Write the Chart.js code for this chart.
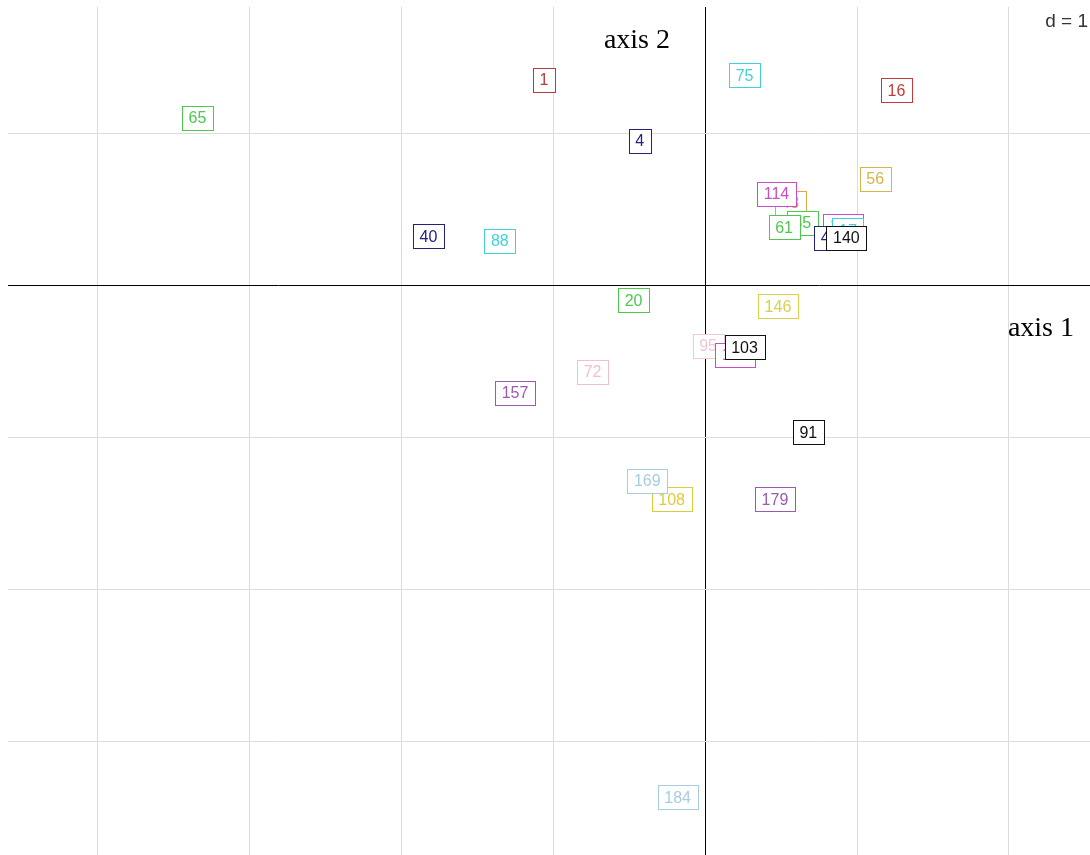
<!DOCTYPE html>
<html>
<head>
<meta charset="utf-8">
<script src="https://cdn.jsdelivr.net/npm/chart.js@4.4.0/dist/chart.umd.min.js"></script>
<style>
html,body{margin:0;padding:0;background:#fff;}
#wrap{position:relative;width:1090px;height:855px;}
canvas{display:block;}
</style>
</head>
<body>
<div id="wrap"><canvas id="c" width="1090" height="855"></canvas></div>
<script>
// Row labels (drawn in this order, later ones on top)
const rowLabels = ['65','1','75','16','4','56','43','35','61','114','126','17','47','140','40','88','20','146','95','130','103','72','157','91','108','169','179','184'];
// Coordinates on axis 1
const axis1 = [-3.34,-1.06,0.26,1.26,-0.43,1.12,0.56,0.64,0.52,0.47,0.91,0.94,0.82,0.93,-1.82,-1.35,-0.47,0.48,0.02,0.20,0.26,-0.74,-1.25,0.68,-0.22,-0.38,0.46,-0.18];
// Coordinates on axis 2
const axis2 = [1.10,1.35,1.38,1.28,0.95,0.70,0.54,0.41,0.38,0.60,0.39,0.36,0.31,0.31,0.32,0.29,-0.10,-0.14,-0.40,-0.46,-0.41,-0.57,-0.71,-0.97,-1.41,-1.29,-1.41,-3.37];
// Label colours
const labelColors = ['#4cc84c','#b83a3a','#3fd2d8','#c43a3a','#22227e','#d8b44a','#e0a840','#4cc84c','#4cc84c','#c84ec8','#c84ec8','#3fd2d8','#22227e','#111111','#22227e','#3fd2d8','#4cc84c','#d8d050','#f0c8d4','#c84ec8','#111111','#f0c0cc','#9a5ab0','#111111','#dccc3c','#a8cce2','#9a5ab0','#a8cce2'];
const gridTicks = [-4,-3,-2,-1,0,1,2];
const vTicks = [-3,-2,-1,0,1];

const labelBoxes = {
  id: 'labelBoxes',
  afterDatasetsDraw(chart) {
    const ctx = chart.ctx;
    const meta = chart.getDatasetMeta(0);
    ctx.save();
    ctx.font = '16px "Liberation Sans", Arial, sans-serif';
    ctx.textAlign = 'center';
    ctx.textBaseline = 'middle';
    meta.data.forEach((el, i) => {
      const t = rowLabels[i];
      const w = Math.round(ctx.measureText(t).width + 13);
      const h = 24;
      const x = Math.round(el.x - w / 2) + 0.5;
      const y = Math.round(el.y - h / 2) + 0.5;
      ctx.fillStyle = '#fff';
      ctx.fillRect(x, y, w, h);
      ctx.strokeStyle = labelColors[i];
      ctx.lineWidth = 1;
      ctx.strokeRect(x, y, w, h);
      ctx.fillStyle = labelColors[i];
      ctx.fillText(t, el.x, el.y + 1);
    });
    // texts
    ctx.fillStyle = '#000';
    ctx.font = '28px "Liberation Serif", "Times New Roman", serif';
    ctx.textAlign = 'right';
    ctx.fillText('axis 2', 670, 41);
    ctx.fillText('axis 1', 1074, 329);
    ctx.fillStyle = '#333';
    ctx.font = '19px "Liberation Sans", Arial, sans-serif';
    ctx.fillText('d = 1', 1088, 22);
    ctx.restore();
  }
};

const gridColor = c => (c.tick && c.tick.value === 0) ? '#000' : '#dcdcdc';

new Chart(document.getElementById('c'), {
  type: 'scatter',
  data: {
    datasets: [{
      data: axis1.map((v, i) => ({x: v, y: axis2[i]})),
      pointRadius: 0,
      pointHoverRadius: 0
    }]
  },
  options: {
    responsive: false,
    animation: false,
    events: [],
    layout: {padding: {left: 8, top: 7, right: 0, bottom: 0}},
    plugins: {legend: {display: false}, tooltip: {enabled: false}},
    scales: {
      x: {
        type: 'linear', min: -4.586, max: 2.533,
        afterBuildTicks: s => { s.ticks = gridTicks.map(v => ({value: v})); },
        ticks: {display: false},
        border: {display: false},
        grid: {color: gridColor, lineWidth: 1, drawTicks: false}
      },
      y: {
        type: 'linear', min: -3.75, max: 1.829,
        afterBuildTicks: s => { s.ticks = vTicks.map(v => ({value: v})); },
        ticks: {display: false},
        border: {display: false},
        grid: {color: gridColor, lineWidth: 1, drawTicks: false}
      }
    }
  },
  plugins: [labelBoxes]
});
</script>
</body>
</html>
